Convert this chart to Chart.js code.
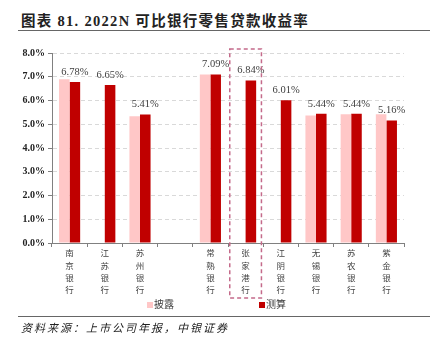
<!DOCTYPE html>
<html>
<head>
<meta charset="utf-8">
<script src="https://cdn.jsdelivr.net/npm/chart.js@4.4.0/dist/chart.umd.min.js"></script>
<style>
  body { margin: 0; background: #fff; width: 441px; height: 354px; position: relative; overflow: hidden;
         font-family: "Liberation Serif", "Noto Sans CJK SC", serif; }
  #title { position: absolute; left: 21px; top: 9px; font-size: 14.5px; font-weight: bold; color: #222;
           letter-spacing: 1.3px; white-space: nowrap; }
  .rule { position: absolute; left: 18px; width: 412px; height: 1px; background: #666; }
  #chartBox { position: absolute; left: 0; top: 30px; width: 441px; height: 286px; }
  .lg { position: absolute; font: 10px "Noto Sans CJK SC"; color: #404040; white-space: nowrap; line-height: 12px; }
  .sw { display: inline-block; width: 6px; height: 6px; margin-right: 1px; vertical-align: 0; }
  #source { position: absolute; left: 21px; top: 319px; font: italic 11px "Noto Sans CJK SC"; color: #222;
            letter-spacing: 2px; white-space: nowrap; }
</style>
</head>
<body>
<div id="title">图表 81. 2022N 可比银行零售贷款收益率</div>
<div class="rule" style="top:30px"></div>
<div id="chartBox"><canvas id="yieldChart"></canvas></div>
<div class="lg" style="left:147px;top:298px"><span class="sw" style="background:#ffc7c7"></span>披露</div>
<div class="lg" style="left:259px;top:298px"><span class="sw" style="background:#c00000"></span>测算</div>
<div class="rule" style="top:316px"></div>
<div id="source">资料来源：上市公司年报，中银证券</div>

<script>
// data
const banks = ['南京银行', '江苏银行', '苏州银行', '', '常熟银行', '张家港行', '江阴银行', '无锡银行', '苏农银行', '紫金银行'];
const disclosed = [6.89, null, 5.34, null, 7.10, null, null, 5.37, 5.42, 5.42];
const estimated = [6.78, 6.65, 5.41, null, 7.09, 6.84, 6.01, 5.44, 5.44, 5.16];
const yTicks = [0, 1, 2, 3, 4, 5, 6, 7, 8];
const highlightIndex = 5;

// labels above the estimated bars + dashed box around the highlighted bank
const overlay = {
  id: 'overlay',
  afterDatasetsDraw(chart) {
    const ctx = chart.ctx;
    const meta = chart.getDatasetMeta(1);
    ctx.save();
    ctx.font = '10.5px "Liberation Serif"';
    ctx.fillStyle = '#404040';
    ctx.textAlign = 'center';
    ctx.textBaseline = 'middle';
    meta.data.forEach(function(bar, i) {
      if (estimated[i] == null) return;
      ctx.fillText(estimated[i].toFixed(2) + '%', bar.x, bar.y - 10);
    });

    const x = chart.scales.x;
    const cx = x.getPixelForValue(highlightIndex);
    const half = (x.getPixelForValue(1) - x.getPixelForValue(0)) * 0.45;
    const top = chart.chartArea.top - 4;
    const bottom = chart.chartArea.bottom + 55;
    ctx.strokeStyle = '#c46a8a';
    ctx.lineWidth = 1.5;
    ctx.setLineDash([4, 3]);
    ctx.strokeRect(cx - half, top, half * 2, bottom - top);
    ctx.restore();
  }
};

const ctx = document.getElementById('yieldChart').getContext('2d');
new Chart(ctx, {
  type: 'bar',
  data: {
    labels: banks.map(function(b) { return b ? b.split('') : ['']; }),
    datasets: [{
      label: '披露',
      data: disclosed,
      backgroundColor: '#ffc7c7',
      barPercentage: 1,
      categoryPercentage: 0.6
    }, {
      label: '测算',
      data: estimated,
      backgroundColor: '#c00000',
      barPercentage: 1,
      categoryPercentage: 0.6
    }]
  },
  options: {
    responsive: true,
    maintainAspectRatio: false,
    animation: false,
    layout: { padding: { top: 23, right: 37, left: 0, bottom: 0 } },
    plugins: {
      legend: { display: false },
      tooltip: { enabled: false }
    },
    scales: {
      x: {
        afterFit: function(scale) { scale.height = 73; },
        grid: { offset: true, drawOnChartArea: false, tickLength: 4, color: '#808080' },
        border: { color: '#808080' },
        ticks: {
          autoSkip: false,
          maxRotation: 0,
          padding: 0,
          color: '#444',
          font: { family: 'Noto Sans CJK SC', size: 8.5, lineHeight: 1.45 }
        }
      },
      y: {
        min: 0,
        max: 8,
        afterFit: function(scale) { scale.width = 52; },
        afterBuildTicks: function(scale) { scale.ticks = yTicks.map(function(v) { return { value: v }; }); },
        grid: {
          color: function(c) { return c.tick && c.tick.value === 0 ? 'rgba(0,0,0,0)' : '#d9d9d9'; },
          tickColor: '#808080',
          tickLength: 4
        },
        border: { color: '#808080', dash: [4, 3] },
        ticks: {
          padding: 3,
          color: '#222',
          font: { family: 'Liberation Serif', size: 10, weight: 'bold' },
          callback: function(v) { return v.toFixed(1) + '%'; }
        }
      }
    }
  },
  plugins: [overlay]
});
</script>
</body>
</html>
